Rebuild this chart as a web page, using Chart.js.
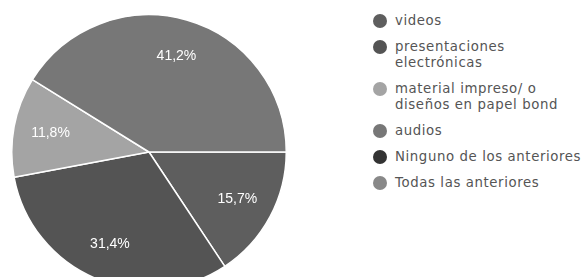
<!DOCTYPE html>
<html>
<head>
<meta charset="utf-8">
<script src="https://cdn.jsdelivr.net/npm/chart.js@4"></script>
<style>
    html, body { margin: 0; padding: 0; background: #fff; overflow: hidden; }
    body { width: 587px; height: 277px; position: relative; }
    #pie { position: absolute; left: 0; top: 0; }
    #legend { position: absolute; left: 373px; top: 13px; font-family: "DejaVu Sans", sans-serif; font-size: 13.3px; letter-spacing: 0.6px; color: #555; }
    .item { display: flex; align-items: flex-start; margin-bottom: 10px; line-height: 16px; white-space: nowrap; }
    .dot { width: 14px; height: 14px; border-radius: 50%; margin: 1px 8px 0 0; flex: none; }
</style>
</head>
<body>
<canvas id="pie" width="298" height="304"></canvas>
<div id="legend"></div>
<script>
// Datos (porcentajes)
const labels = [
    ['videos'],
    ['presentaciones', 'electrónicas'],
    ['material impreso/ o', 'diseños en papel bond'],
    ['audios'],
    ['Ninguno de los anteriores'],
    ['Todas las anteriores']
];
const values = [15.7, 31.4, 11.8, 41.2, 0, 0];
const colors = ['#5e5e5e', '#545454', '#a4a4a4', '#777777', '#333333', '#888888'];

// Leyenda en HTML (etiquetas de varias líneas)
const legend = document.getElementById('legend');
labels.forEach((lines, i) => {
    const row = document.createElement('div');
    row.className = 'item';
    const dot = document.createElement('span');
    dot.className = 'dot';
    dot.style.background = colors[i];
    const txt = document.createElement('span');
    txt.innerHTML = lines.join('<br>');
    row.appendChild(dot);
    row.appendChild(txt);
    legend.appendChild(row);
});

// Etiquetas de porcentaje dentro de cada porción
const sliceLabels = {
    id: 'sliceLabels',
    afterDatasetsDraw(chart) {
        const ctx = chart.ctx;
        const meta = chart.getDatasetMeta(0);
        ctx.save();
        ctx.fillStyle = '#fff';
        ctx.font = '14px "Liberation Sans", Arial, sans-serif';
        ctx.textAlign = 'center';
        ctx.textBaseline = 'middle';
        meta.data.forEach((arc, i) => {
            const v = values[i];
            if (!v) return;
            const mid = (arc.startAngle + arc.endAngle) / 2;
            const r = arc.outerRadius * 0.73;
            const x = arc.x + Math.cos(mid) * r;
            const y = arc.y + Math.sin(mid) * r;
            ctx.fillText(v.toFixed(1).replace('.', ',') + '%', x, y);
        });
        ctx.restore();
    }
};

new Chart(document.getElementById('pie'), {
    type: 'pie',
    data: {
        labels: labels.map(l => l.join(' ')),
        datasets: [{
            data: values,
            backgroundColor: colors,
            borderColor: '#fff',
            borderWidth: 1.5
        }]
    },
    options: {
        responsive: false,
        animation: false,
        devicePixelRatio: 1,
        rotation: 90,
        layout: { padding: 11 },
        plugins: {
            legend: { display: false },
            tooltip: { enabled: false }
        }
    },
    plugins: [sliceLabels]
});
</script>
</body>
</html>
